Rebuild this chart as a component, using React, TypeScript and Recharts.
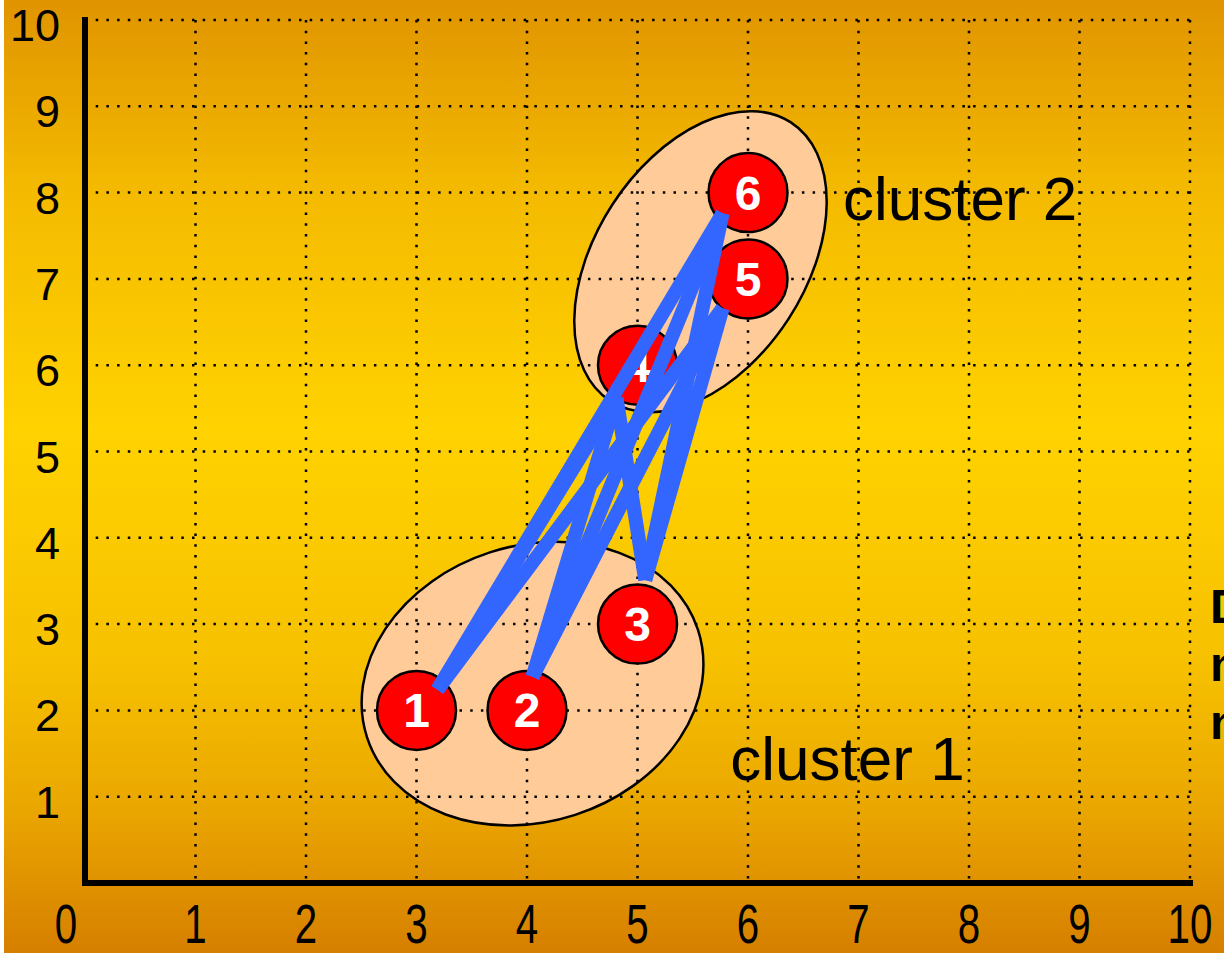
import React from 'react';
import { ScatterChart, Scatter, XAxis, YAxis, CartesianGrid } from 'recharts';

// --- data ---
const axisTicks = [0, 1, 2, 3, 4, 5, 6, 7, 8, 9, 10];

const pointLabels = ['1', '2', '3', '4', '5', '6'];
const pointX = [3, 4, 5, 5, 6, 6];
const pointY = [2, 2, 3, 6, 7, 8];

// where each blue link leaves a circle (cluster 1 side, then cluster 2 side)
const linkFromX = [3.19, 4.05, 5.07];
const linkFromY = [2.24, 2.39, 3.51];
const linkToX = [4.81, 5.77, 5.77];
const linkToY = [5.62, 6.66, 7.76];

const clusterNames = ['cluster 1', 'cluster 2'];
const clusterCenterX = [4.05, 5.57];
const clusterCenterY = [2.31, 7.2];
const clusterTextX = [5.84, 6.86];
const clusterTextY = [1.19, 7.68];

// text cut off at the right edge of the slide
const sideNote = ['D', 'n', 'n'];

// --- layout / styling ---
const W = 1224;
const H = 953;
const MARGIN = { top: 20, right: 34, left: 0, bottom: 0 };
const FONT = '"Liberation Sans", Arial, Helvetica, sans-serif';
const ELLIPSE_STYLE = [
  { rx: 174, ry: 138, angle: -18 },
  { rx: 166, ry: 105, angle: -57 },
];

const points = pointLabels.map((label, i) => ({ x: pointX[i], y: pointY[i], label }));
const clusters = clusterNames.map((name, i) => ({ x: clusterCenterX[i], y: clusterCenterY[i], idx: i }));
const clusterTexts = clusterNames.map((name, i) => ({ x: clusterTextX[i], y: clusterTextY[i], name }));
const links: { x: number; y: number }[][] = [];
linkFromX.forEach((fx, i) => {
  linkToX.forEach((tx, j) => {
    links.push([
      { x: fx, y: linkFromY[i] },
      { x: tx, y: linkToY[j] },
    ]);
  });
});

const renderXTick = (props: any) => {
  const { x, y, payload } = props;
  // the "0" sits left of the axis corner in the original
  const shift = payload.value === 0 ? -19 : 0;
  return (
    <text
      transform={`translate(${x + shift},${y + 60}) scale(0.72,1)`}
      textAnchor="middle"
      fontSize={56}
      fontFamily={FONT}
      fill="#000"
    >
      {payload.value}
    </text>
  );
};

const renderYTick = (props: any) => {
  const { x, y, payload } = props;
  // no "0" on the vertical axis
  if (payload.value === 0) return <g />;
  return (
    <text x={x - 25} y={y + 21} textAnchor="end" fontSize={45} fontFamily={FONT} fill="#000">
      {payload.value}
    </text>
  );
};

const EllipseShape = (props: any) => {
  const { cx, cy, payload } = props;
  const s = ELLIPSE_STYLE[payload.idx];
  return (
    <ellipse
      cx={cx}
      cy={cy}
      rx={s.rx}
      ry={s.ry}
      transform={`rotate(${s.angle} ${cx} ${cy})`}
      fill="#FFCC99"
      stroke="#000"
      strokeWidth={2.5}
    />
  );
};

const PointShape = (props: any) => {
  const { cx, cy, payload } = props;
  return (
    <g>
      <circle cx={cx} cy={cy} r={39.5} fill="#FF0000" stroke="#000" strokeWidth={2.5} />
      <text
        x={cx}
        y={cy + 17}
        textAnchor="middle"
        fontSize={48}
        fontWeight="bold"
        fontFamily={FONT}
        fill="#fff"
      >
        {payload.label}
      </text>
    </g>
  );
};

const ClusterText = (props: any) => {
  const { cx, cy, payload } = props;
  return (
    <text x={cx} y={cy} fontSize={62} fontFamily={FONT} fill="#000">
      {payload.name}
    </text>
  );
};

const NoMark = () => <g />;

export default function App() {
  return (
    <div
      style={{
        position: 'absolute',
        left: 0,
        top: 0,
        width: W,
        height: H,
        overflow: 'hidden',
        background: '#fff',
      }}
    >
      <div
        style={{
          position: 'absolute',
          left: 4,
          top: 0,
          width: W - 4,
          height: H,
          background:
            'linear-gradient(to bottom, #E09400 0%, #F4BA00 20%, #FFD200 45%, #F6C000 70%, #EAA600 85%, #D67F00 100%)',
        }}
      />
      {/* ellipses sit below the dotted grid, so they get their own chart underneath */}
      <div style={{ position: 'absolute', left: 0, top: 0 }}>
        <ScatterChart width={W} height={H} margin={MARGIN}>
          <XAxis type="number" dataKey="x" domain={[0, 10]} ticks={axisTicks} height={70} tick={false} axisLine={false} tickLine={false} />
          <YAxis type="number" dataKey="y" domain={[0, 10]} ticks={axisTicks} width={85} tick={false} axisLine={false} tickLine={false} />
          <Scatter data={clusters} shape={EllipseShape} isAnimationActive={false} />
        </ScatterChart>
      </div>
      <div style={{ position: 'absolute', left: 0, top: 0 }}>
        <ScatterChart width={W} height={H} margin={MARGIN}>
          <CartesianGrid stroke="#000" strokeWidth={2.5} strokeDasharray="2.5 8.2" />
          <XAxis
            type="number"
            dataKey="x"
            domain={[0, 10]}
            ticks={axisTicks}
            interval={0}
            height={70}
            tickSize={0}
            tickMargin={0}
            tickLine={false}
            axisLine={{ stroke: '#000', strokeWidth: 6, strokeLinecap: 'square' }}
            tick={renderXTick}
          />
          <YAxis
            type="number"
            dataKey="y"
            domain={[0, 10]}
            ticks={axisTicks}
            interval={0}
            width={85}
            tickSize={0}
            tickMargin={0}
            tickLine={false}
            axisLine={{ stroke: '#000', strokeWidth: 6, strokeLinecap: 'square' }}
            tick={renderYTick}
          />
          <Scatter data={clusterTexts} shape={ClusterText} isAnimationActive={false} />
          <Scatter data={points} shape={PointShape} isAnimationActive={false} />
          {links.map((seg, k) => (
            <Scatter
              key={k}
              data={seg}
              shape={NoMark}
              line={{ stroke: '#3366FF', strokeWidth: 14 }}
              isAnimationActive={false}
            />
          ))}
        </ScatterChart>
      </div>
      <svg width={W} height={H} style={{ position: 'absolute', left: 0, top: 0, pointerEvents: 'none' }}>
        {sideNote.map((t, i) => (
          <text key={i} x={1210} y={623 + i * 58} fontSize={48} fontWeight="bold" fontFamily={FONT} fill="#000">
            {t}
          </text>
        ))}
      </svg>
    </div>
  );
}
